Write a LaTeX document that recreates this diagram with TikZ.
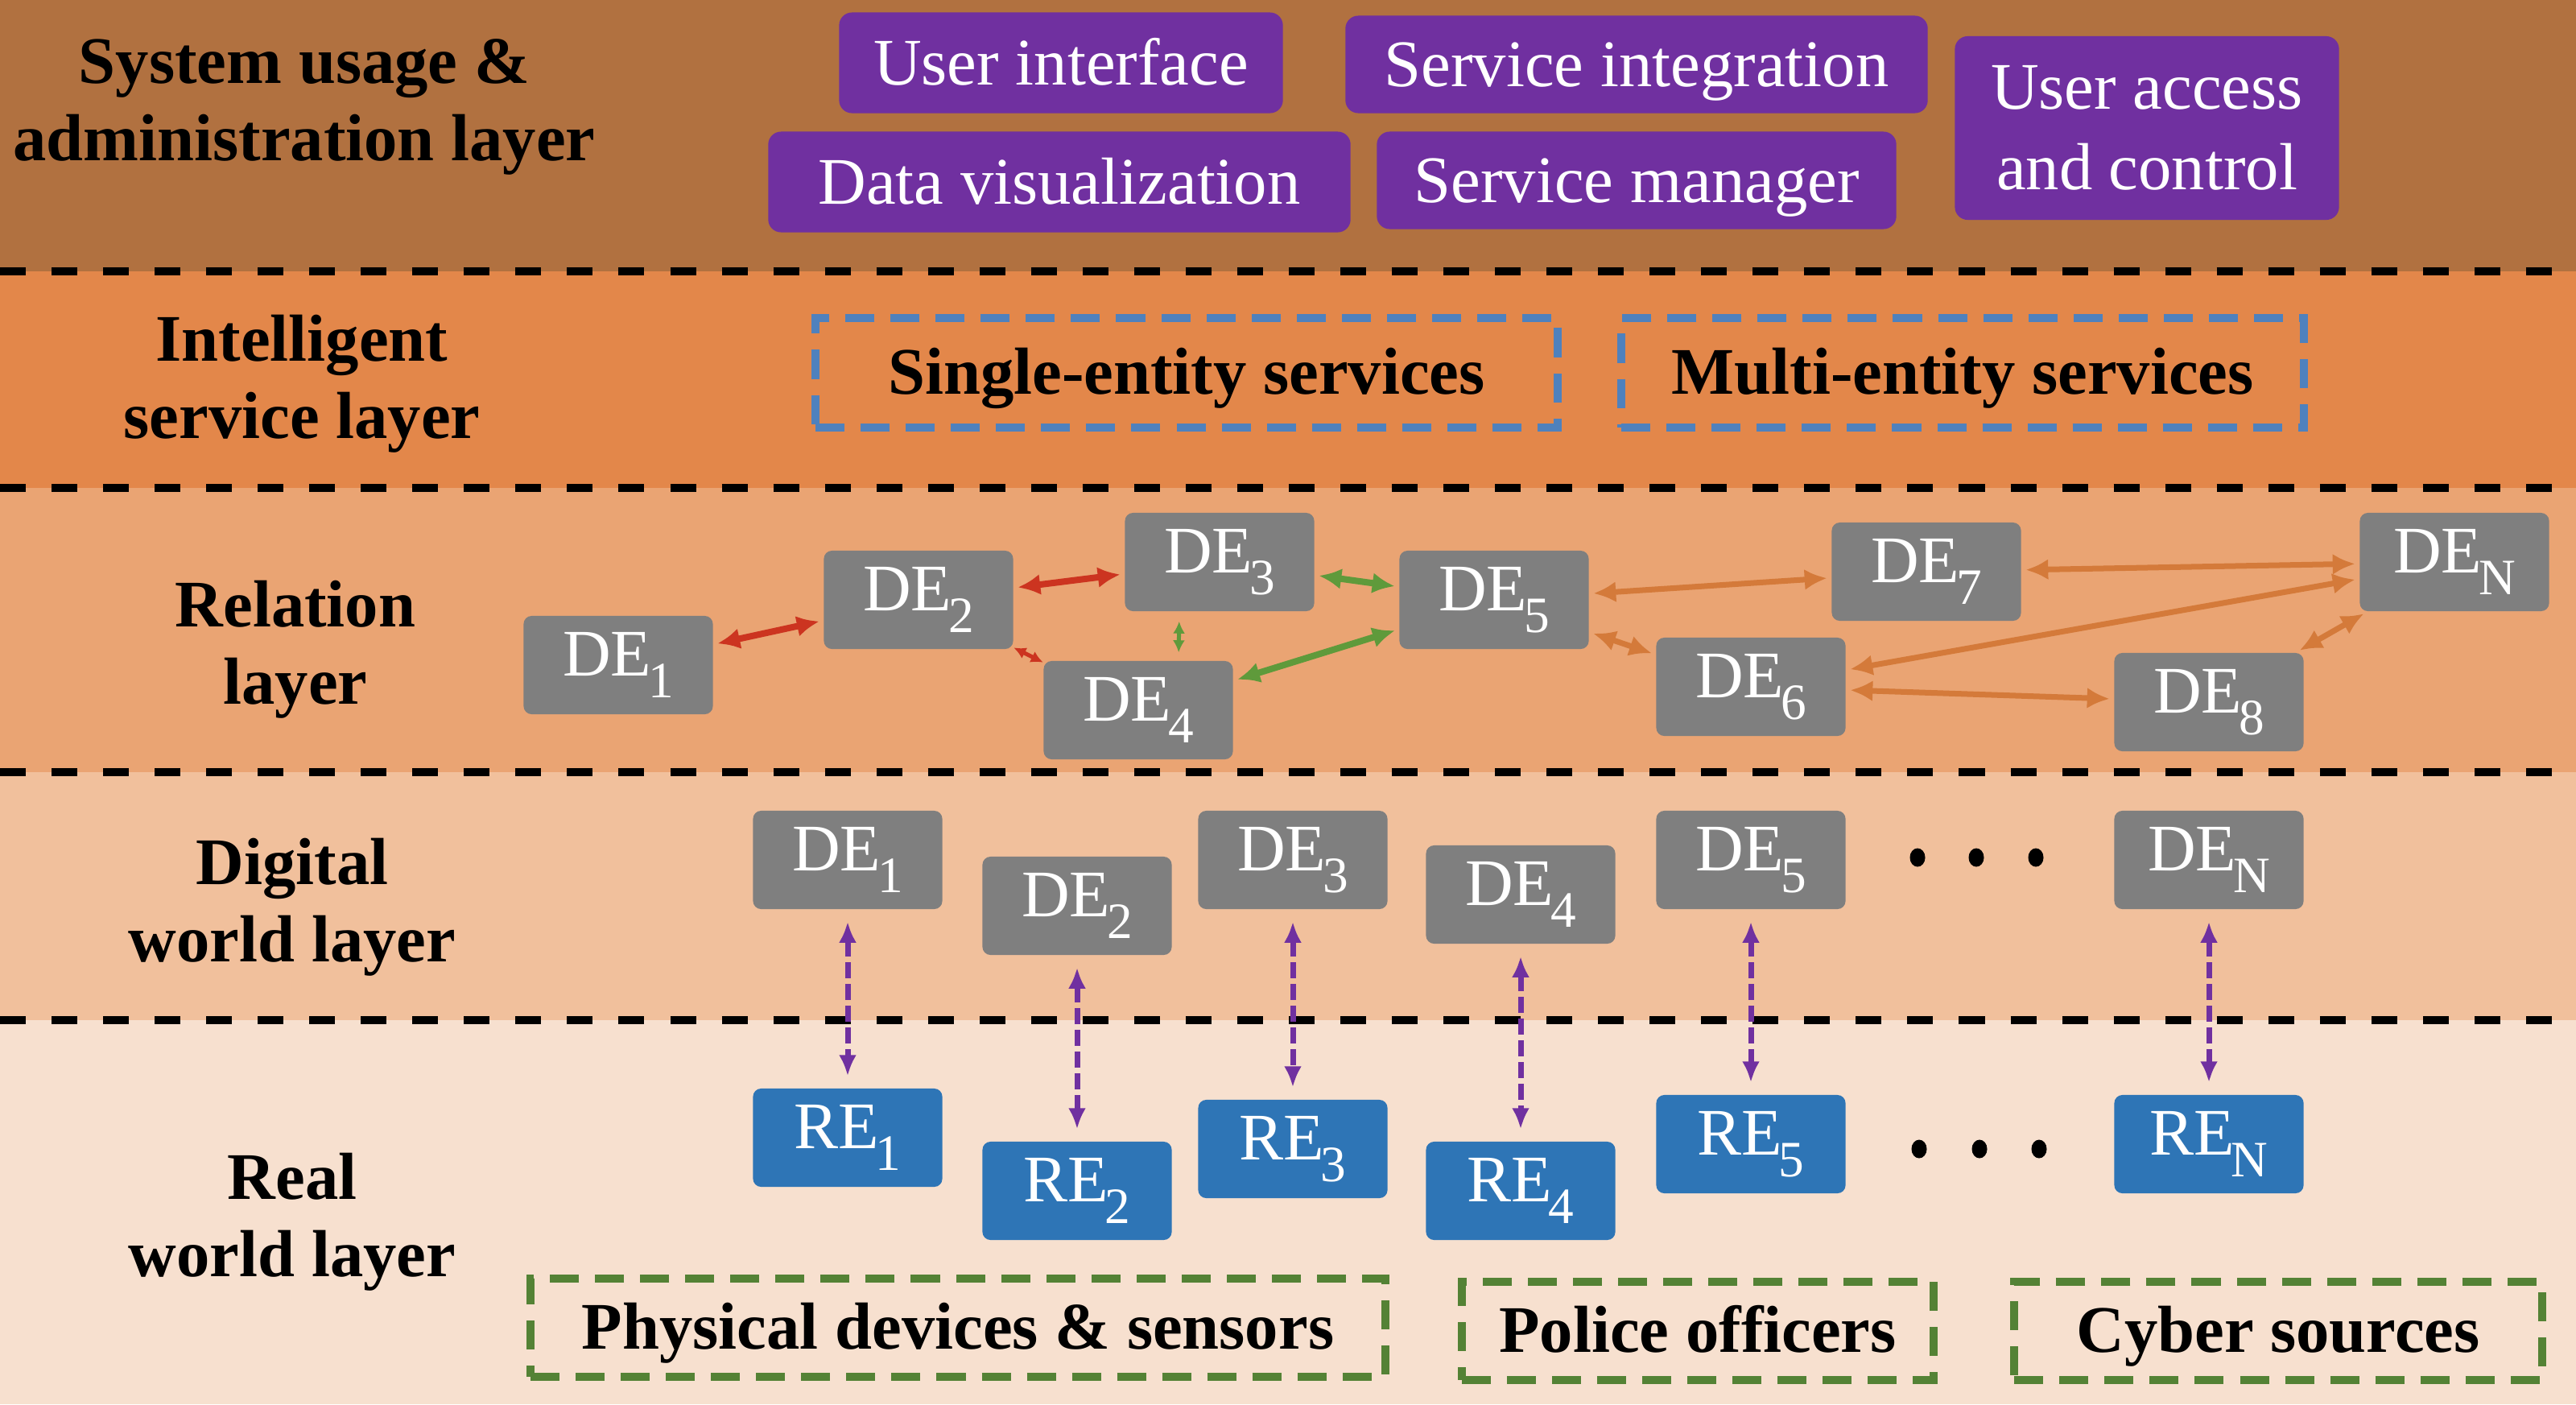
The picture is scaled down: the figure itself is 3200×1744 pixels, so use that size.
\documentclass[tikz,border=0pt]{standalone}
\usepackage{fontspec}
\setmainfont{Liberation Serif}
\usetikzlibrary{arrows.meta}
\definecolor{layA}{RGB}{177,113,64}
\definecolor{layB}{RGB}{227,135,74}
\definecolor{layC}{RGB}{234,164,115}
\definecolor{layD}{RGB}{241,192,156}
\definecolor{layE}{RGB}{247,224,207}
\definecolor{purp}{RGB}{112,48,160}
\definecolor{grayde}{RGB}{127,127,127}
\definecolor{bluere}{RGB}{46,117,182}
\definecolor{svcblue}{RGB}{79,129,189}
\definecolor{srcgreen}{RGB}{84,130,53}
\definecolor{lred}{RGB}{204,52,32}
\definecolor{lgreen}{RGB}{95,154,59}
\definecolor{lorange}{RGB}{212,122,58}
\newcommand\sbs[1]{\kern-0.05em\raisebox{-0.7ex}{\fontsize{18}{18}\selectfont #1}}
\tikzset{
  lbl/.style={font=\fontsize{23.5}{27.3}\selectfont\bfseries, align=center, text=black, inner sep=0pt},
  pbox/.style={fill=purp, rounded corners=0.16cm, text=white, font=\fontsize{23.5}{28.5}\selectfont, inner sep=0pt, align=center},
  pone/.style={pbox, text height=0.58cm, text depth=0.03cm},
  debox/.style={fill=grayde, rounded corners=0.1cm, minimum width=2.35cm, minimum height=1.22cm, text=white, font=\fontsize{23.5}{28}\selectfont, inner sep=0pt},
  rebox/.style={debox, fill=bluere},
  sepline/.style={draw=black, line width=0.1cm, dash pattern=on 0.32cm off 0.32cm},
  svc/.style={draw=svcblue, line width=0.1cm, dash pattern=on 0.36cm off 0.2cm, font=\fontsize{23.5}{28}\selectfont\bfseries, text=black, minimum height=1.35cm, inner sep=0pt, text height=0.58cm, text depth=0.05cm},
  src/.style={svc, draw=srcgreen, minimum height=1.22cm},
  vlink/.style={draw=purp, line width=0.07cm, dash pattern=on 0.2cm off 0.07cm, {Latex[length=0.26cm,width=0.22cm]}-{Latex[length=0.26cm,width=0.22cm]}, shorten >=0.15cm, shorten <=0.15cm},
  rlink/.style={line width=0.08cm, {Latex[length=0.28cm,width=0.26cm]}-{Latex[length=0.28cm,width=0.26cm]}, shorten >=0.05cm, shorten <=0.05cm},
  redlink/.style={rlink, draw=lred, fill=lred},
  greenlink/.style={rlink, draw=lgreen, fill=lgreen},
  orangelink/.style={rlink, draw=lorange, fill=lorange, line width=0.07cm},
  smalltips/.style={line width=0.05cm, {Latex[length=0.15cm,width=0.15cm]}-{Latex[length=0.15cm,width=0.15cm]}, shorten >=0cm, shorten <=0cm},
  dotm/.style={fill=black}
}
\begin{document}
\begin{tikzpicture}[x=0.01cm,y=-0.01cm]
\useasboundingbox (0,0) rectangle (3200,1744);
% layer backgrounds
\fill[layA] (0,0) rectangle (3200,337);
\fill[layB] (0,337) rectangle (3200,606);
\fill[layC] (0,606) rectangle (3200,959);
\fill[layD] (0,959) rectangle (3200,1267);
\fill[layE] (0,1267) rectangle (3200,1744);
\foreach \yy in {337,606,959,1267} \draw[sepline] (0,\yy) -- (3200,\yy);

% layer labels
\node[lbl] (l1) at (378,133) {System usage \&\\administration layer};
\node[lbl] (l2) at (375,477) {Intelligent\\service layer};
\node[lbl] (l3) at (367,807) {Relation\\layer};
\node[lbl] (l4) at (363,1127) {Digital\\world layer};
\node[lbl] (l5) at (363,1518) {Real\\world layer};

% system usage layer
\node[pone, minimum width=5.51cm, minimum height=1.25cm] (ui) at (1318,78) {User interface};
\node[pone, minimum width=7.23cm, minimum height=1.21cm] (si) at (2033,80) {Service integration};
\node[pone, minimum width=7.23cm, minimum height=1.25cm] (dv) at (1316,226) {Data visualization};
\node[pone, minimum width=6.45cm, minimum height=1.21cm] (sm) at (2033,224) {Service manager};
\node[pbox, minimum width=4.77cm, minimum height=2.28cm] (uac) at (2667,159) {User access\\and control};

% intelligent service layer
\node[svc, minimum width=9.21cm] (single) at (1474,463) {Single-entity services};
\node[svc, minimum width=8.47cm] (multi) at (2438,463) {Multi-entity services};

% relation layer
\node[debox] (rDE1) at (768,826) {DE\sbs{1}};
\node[debox] (rDE2) at (1141,745) {DE\sbs{2}};
\node[debox] (rDE3) at (1515,698) {DE\sbs{3}};
\node[debox] (rDE4) at (1414,882) {DE\sbs{4}};
\node[debox] (rDE5) at (1856,745) {DE\sbs{5}};
\node[debox] (rDE6) at (2175,853) {DE\sbs{6}};
\node[debox] (rDE7) at (2393,710) {DE\sbs{7}};
\node[debox] (rDE8) at (2744,872) {DE\sbs{8}};
\node[debox] (rDEN) at (3049,698) {DE\sbs{N}};

\draw[redlink] (rDE1) -- (rDE2);
\draw[redlink] (rDE2) -- (rDE3);
\draw[redlink, smalltips] (rDE2) -- (rDE4);
\draw[greenlink, smalltips, shorten >=0.1cm, shorten <=0.12cm] ([xshift=-0.5cm]rDE3.south) -- ([xshift=0.5cm]rDE4.north);
\draw[greenlink] (rDE3) -- (rDE5);
\draw[greenlink] (rDE4) -- (rDE5);
\draw[orangelink] (rDE5) -- (rDE7);
\draw[orangelink] (rDE5) -- (rDE6);
\draw[orangelink] (rDE7) -- (rDEN);
\draw[orangelink] (rDE6) -- (rDEN);
\draw[orangelink] (rDE6) -- (rDE8);
\draw[orangelink] (rDE8) -- (rDEN);

% digital world layer
\node[debox] (dDE1) at (1053,1068) {DE\sbs{1}};
\node[debox] (dDE2) at (1338,1125) {DE\sbs{2}};
\node[debox] (dDE3) at (1606,1068) {DE\sbs{3}};
\node[debox] (dDE4) at (1889,1111) {DE\sbs{4}};
\node[debox] (dDE5) at (2175,1068) {DE\sbs{5}};
\node[debox] (dDEN) at (2744,1068) {DE\sbs{N}};
\foreach \xx in {2382,2455,2529} \fill[dotm] (\xx,1065) ellipse (0.095cm and 0.115cm);

% real world layer
\node[rebox] (RE1) at (1053,1413) {RE\sbs{1}};
\node[rebox] (RE2) at (1338,1479) {RE\sbs{2}};
\node[rebox] (RE3) at (1606,1427) {RE\sbs{3}};
\node[rebox] (RE4) at (1889,1479) {RE\sbs{4}};
\node[rebox] (RE5) at (2175,1421) {RE\sbs{5}};
\node[rebox] (REN) at (2744,1421) {RE\sbs{N}};
\foreach \xx in {2384,2459,2533} \fill[dotm] (\xx,1427) ellipse (0.095cm and 0.115cm);

\draw[vlink] (dDE1) -- (RE1);
\draw[vlink] (dDE2) -- (RE2);
\draw[vlink] (dDE3) -- (RE3);
\draw[vlink] (dDE4) -- (RE4);
\draw[vlink] (dDE5) -- (RE5);
\draw[vlink] (dDEN) -- (REN);

\node[src, minimum width=10.61cm] (phys) at (1190,1649) {Physical devices \& sensors};
\node[src, minimum width=5.86cm] (police) at (2109,1653) {Police officers};
\node[src, minimum width=6.55cm] (cyber) at (2830,1653) {Cyber sources};
\end{tikzpicture}
\end{document}
